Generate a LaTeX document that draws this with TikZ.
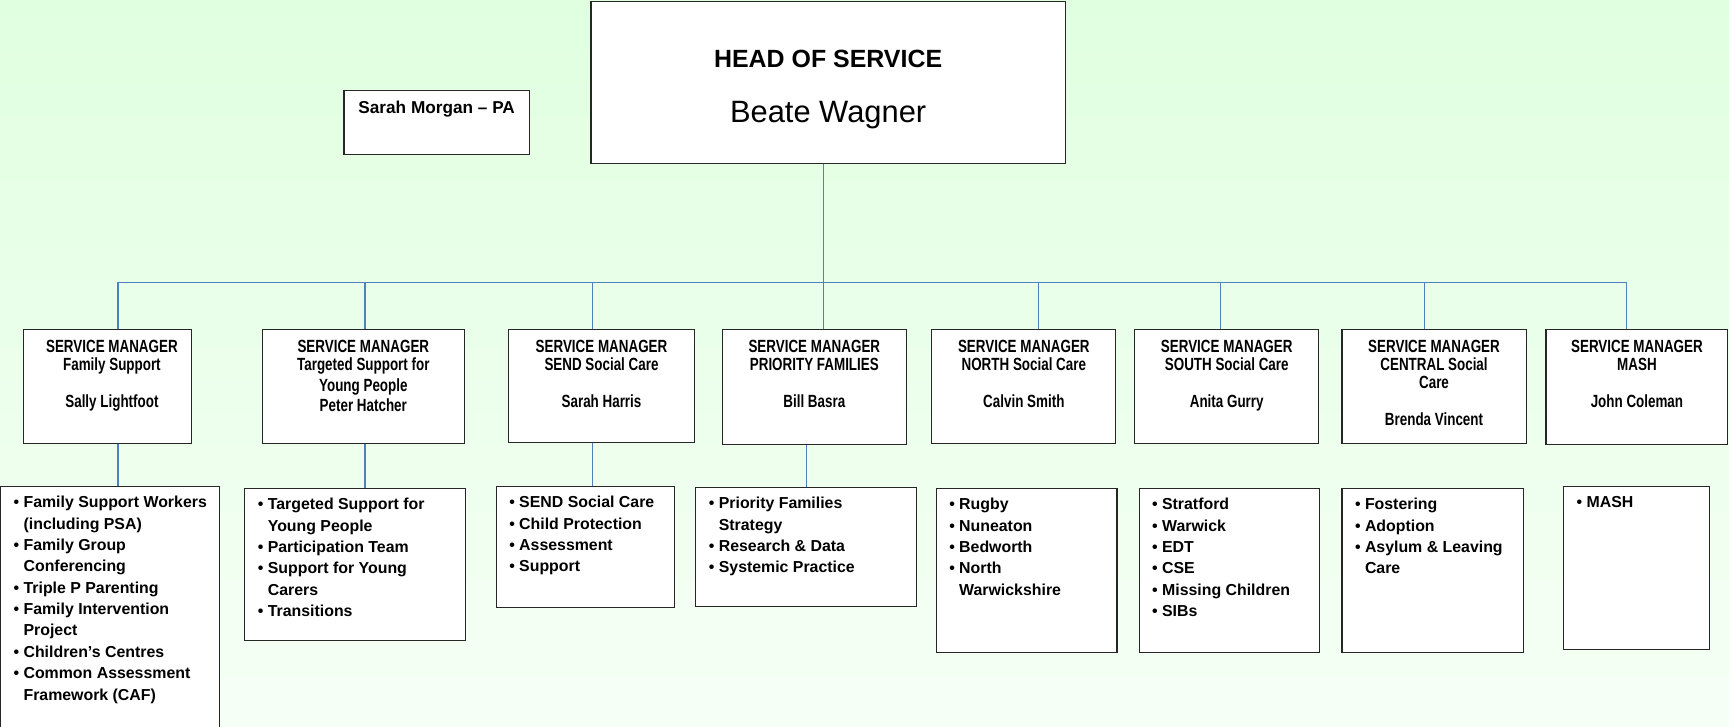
\documentclass[tikz,border=0pt]{standalone}
\usepackage{fontspec}
\setmainfont{Liberation Sans}
\newfontfamily\condfont[FakeStretch=0.76]{Liberation Sans}
\usetikzlibrary{fit}
\definecolor{bgtop}{RGB}{224,255,224}
\definecolor{bgbot}{RGB}{246,255,246}
\definecolor{connblue}{RGB}{79,129,189}
\newcommand\bul{\hspace*{2pt}\makebox[4.5pt][l]{•}}
\newcommand\ind{\hspace*{6.5pt}}
\begin{document}
\begin{tikzpicture}[x=0.5pt,y=-0.5pt,
  box/.style={draw=black!85, fill=white, line width=0.5pt, inner sep=0pt},
  conn/.style={draw=connblue, line width=0.5pt},
  mtext/.style={anchor=north, align=center, inner sep=0pt, font=\condfont\bfseries\fontsize{8}{8.35}\selectfont},
  ltext/.style={anchor=north west, align=left, inner sep=0pt, font=\bfseries\fontsize{7.2}{9.7}\selectfont},
]
\useasboundingbox (0,0) rectangle (1568,658.4);
\clip (0,0) rectangle (1568,658.4);
\shade[top color=bgtop, bottom color=bgbot] (0,0) rectangle (1568,658.4);

% head and PA
\node[box, fit={(536,1) (966,148)}] (head) {};
\node[anchor=base, inner sep=0pt, font=\bfseries\fontsize{11.3}{13}\selectfont] (ht1) at (751,61) {HEAD OF SERVICE};
\node[anchor=base, inner sep=0pt, font=\fontsize{14}{16}\selectfont] (ht2) at (751,111) {Beate Wagner};
\node[box, fit={(312,82) (480,140)}] (pa) {};
\node[anchor=base, inner sep=0pt, font=\bfseries\fontsize{7.8}{9}\selectfont] (pat) at (396,102.5) {Sarah Morgan – PA};

% managers
\node[box, fit={(21,299) (174,402)}] (m1) {};
\node[box, fit={(238,299) (421,402)}] (m2) {};
\node[box, fit={(461,299) (630,401)}] (m3) {};
\node[box, fit={(655,299) (822,403)}] (m4) {};
\node[box, fit={(845,299) (1012,402)}] (m5) {};
\node[box, fit={(1029,299) (1196,402)}] (m6) {};
\node[box, fit={(1217,299) (1384,402)}] (m7) {};
\node[box, fit={(1402,299) (1567,403)}] (m8) {};

\node[mtext] (m1t) at ([xshift=2pt,yshift=-4.6pt]m1.north) {SERVICE MANAGER\\Family Support\\[8.35pt]Sally Lightfoot};
\node[mtext] (m2t) at ([yshift=-4.6pt]m2.north) {SERVICE MANAGER\\Targeted Support for\\[1pt]Young People\\[1pt]Peter Hatcher};
\node[mtext] (m3t) at ([yshift=-4.6pt]m3.north) {SERVICE MANAGER\\SEND Social Care\\[8.35pt]Sarah Harris};
\node[mtext] (m4t) at ([yshift=-4.6pt]m4.north) {SERVICE MANAGER\\PRIORITY FAMILIES\\[8.35pt]Bill Basra};
\node[mtext] (m5t) at ([yshift=-4.6pt]m5.north) {SERVICE MANAGER\\NORTH Social Care\\[8.35pt]Calvin Smith};
\node[mtext] (m6t) at ([yshift=-4.6pt]m6.north) {SERVICE MANAGER\\SOUTH Social Care\\[8.35pt]Anita Gurry};
\node[mtext] (m7t) at ([yshift=-4.6pt]m7.north) {SERVICE MANAGER\\CENTRAL Social\\Care\\[8.35pt]Brenda Vincent};
\node[mtext] (m8t) at ([yshift=-4.6pt]m8.north) {SERVICE MANAGER\\MASH\\[8.35pt]John Coleman};

% lists
\node[box, fit={(0.5,441) (199,720)}] (L1) {};
\node[box, fit={(222,443) (422,581)}] (L2) {};
\node[box, fit={(450,441) (612,551)}] (L3) {};
\node[box, fit={(631,442) (831,550)}] (L4) {};
\node[box, fit={(849,443) (1013,592)}] (L5) {};
\node[box, fit={(1033,443) (1197,592)}] (L6) {};
\node[box, fit={(1217,443) (1382,592)}] (L7) {};
\node[box, fit={(1418,441) (1550,589)}] (L8) {};

\node[ltext] (l1t) at ([xshift=4pt,yshift=-4.5pt]L1.north west) {\bul Family Support Workers\\ \ind (including PSA)\\ \bul Family Group\\ \ind Conferencing\\ \bul Triple P Parenting\\ \bul Family Intervention\\ \ind Project\\ \bul Children’s Centres\\ \bul Common Assessment\\ \ind Framework (CAF)};
\node[ltext] (l2t) at ([xshift=4pt,yshift=-4.5pt]L2.north west) {\bul Targeted Support for\\ \ind Young People\\ \bul Participation Team\\ \bul Support for Young\\ \ind Carers\\ \bul Transitions};
\node[ltext] (l3t) at ([xshift=4pt,yshift=-4.5pt]L3.north west) {\bul SEND Social Care\\ \bul Child Protection\\ \bul Assessment\\ \bul Support};
\node[ltext] (l4t) at ([xshift=4pt,yshift=-4.5pt]L4.north west) {\bul Priority Families\\ \ind Strategy\\ \bul Research \& Data\\ \bul Systemic Practice};
\node[ltext] (l5t) at ([xshift=4pt,yshift=-4.5pt]L5.north west) {\bul Rugby\\ \bul Nuneaton\\ \bul Bedworth\\ \bul North\\ \ind Warwickshire};
\node[ltext] (l6t) at ([xshift=4pt,yshift=-4.5pt]L6.north west) {\bul Stratford\\ \bul Warwick\\ \bul EDT\\ \bul CSE\\ \bul Missing Children\\ \bul SIBs};
\node[ltext] (l7t) at ([xshift=4pt,yshift=-4.5pt]L7.north west) {\bul Fostering\\ \bul Adoption\\ \bul Asylum \& Leaving\\ \ind Care};
\node[ltext] (l8t) at ([xshift=4pt,yshift=-4.5pt]L8.north west) {\bul MASH};

% connectors
\coordinate (hb) at (747,256);
\coordinate (b1) at (107,256);
\coordinate (b2) at (331,256);
\coordinate (b3) at (537,256);
\coordinate (b4) at (747,256);
\coordinate (b5) at (942,256);
\coordinate (b6) at (1107,256);
\coordinate (b7) at (1292,256);
\coordinate (b8) at (1475,256);
\coordinate (e4) at (731,420);
\draw[conn] (hb |- head.south) -- (hb);
\draw[conn] (b1) -- (b8);
\foreach \i in {1,...,8}{\draw[conn] (b\i) -- (b\i |- m\i.north);}
\draw[conn] (b1 |- m1.south) -- (b1 |- L1.north);
\draw[conn] (b2 |- m2.south) -- (b2 |- L2.north);
\draw[conn] (b3 |- m3.south) -- (b3 |- L3.north);
\draw[conn] (e4 |- m4.south) -- (e4 |- L4.north);
\end{tikzpicture}
\end{document}
